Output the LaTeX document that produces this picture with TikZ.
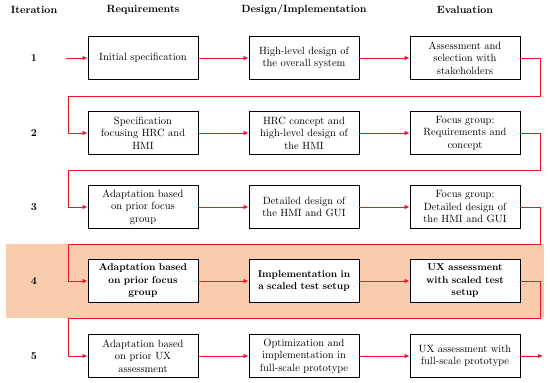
\documentclass[tikz,border=0pt]{standalone}
\usepackage{tikz}
\usepackage{xcolor}
\usetikzlibrary{arrows.meta}
\definecolor{bandpeach}{RGB}{250, 204, 174}
\definecolor{flowred}{RGB}{240, 20, 40}

\begin{document}
\begin{tikzpicture}[x=1pt, y=-1pt,
    stepbox/.style={draw, line width=0.9pt, fill=white, text width=102pt, align=center,
        inner xsep=4pt, inner ysep=2pt, minimum height=43pt, font=\fontsize{10.5}{12.5}\selectfont},
    bold/.style={font=\fontsize{10}{12.5}\selectfont\bfseries},
    head/.style={font=\fontsize{10.5}{12.5}\selectfont\bfseries},
    flow/.style={draw=flowred, line width=0.8pt, -{Latex[length=5pt,width=4.5pt]}}]
    \useasboundingbox (0, 0) rectangle (550, 383);

    % highlighted iteration
    \fill[bandpeach] (6, 244) rectangle (544, 318);

    % column headings
    \node[head] (hit) at (34, 10) {Iteration};
    \node[head] (hreq) at (143, 10) {Requirements};
    \node[head] (hdes) at (304, 10) {Design/Implementation};
    \node[head] (heva) at (465, 10) {Evaluation};

    % iteration numbers
    \node[head] (i1) at (34, 58) {1};
    \node[head] (i2) at (34, 133) {2};
    \node[head] (i3) at (34, 207) {3};
    \node[head] (i4) at (34, 281) {4};
    \node[head] (i5) at (34, 356) {5};

    % iteration 1
    \node[stepbox] (r1) at (143, 58) {Initial specification};
    \node[stepbox] (d1) at (304, 58) {High-level design of\\the overall system};
    \node[stepbox] (e1) at (465, 58) {Assessment and\\selection with\\stakeholders};

    % iteration 2
    \node[stepbox] (r2) at (143, 133) {Specification\\focusing HRC and\\HMI};
    \node[stepbox] (d2) at (304, 133) {HRC concept and\\high-level design of\\the HMI};
    \node[stepbox] (e2) at (465, 133) {Focus group:\\Requirements and\\concept};

    % iteration 3
    \node[stepbox] (r3) at (143, 207) {Adaptation based\\on prior focus\\group};
    \node[stepbox] (d3) at (304, 207) {Detailed design of\\the HMI and GUI};
    \node[stepbox] (e3) at (465, 207) {Focus group:\\Detailed design of\\the HMI and GUI};

    % iteration 4 (bold)
    \node[stepbox, bold] (r4) at (143, 281) {Adaptation based\\on prior focus\\group};
    \node[stepbox, bold] (d4) at (304, 281) {Implementation in\\a scaled test setup};
    \node[stepbox, bold] (e4) at (465, 281) {UX assessment\\with scaled test\\setup};

    % iteration 5
    \node[stepbox] (r5) at (143, 356) {Adaptation based\\on prior UX\\assessment};
    \node[stepbox] (d5) at (304, 356) {Optimization and\\implementation in\\full-scale prototype};
    \node[stepbox] (e5) at (465, 356) {UX assessment with\\full-scale prototype};

    % free ends and turning points
    \coordinate (start) at (66, 58);
    \coordinate (finish) at (543, 356);
    \coordinate (back1r) at (540, 96);  \coordinate (back1l) at (68, 96);
    \coordinate (back2r) at (540, 170); \coordinate (back2l) at (68, 170);
    \coordinate (back3r) at (540, 244); \coordinate (back3l) at (68, 244);
    \coordinate (back4r) at (540, 318); \coordinate (back4l) at (68, 318);

    % arrows within each iteration
    \draw[flow] (start) -- (r1);
    \draw[flow] (r1) -- (d1);
    \draw[flow] (d1) -- (e1);
    \draw[flow] (r2) -- (d2);
    \draw[flow] (d2) -- (e2);
    \draw[flow] (r3) -- (d3);
    \draw[flow] (d3) -- (e3);
    \draw[flow] (r4) -- (d4);
    \draw[flow] (d4) -- (e4);
    \draw[flow] (r5) -- (d5);
    \draw[flow] (d5) -- (e5);
    \draw[flow] (e5) -- (finish);

    % loops back to the next iteration
    \draw[flow] (e1.east) -| (back1r) -- (back1l) |- (r2.west);
    \draw[flow] (e2.east) -| (back2r) -- (back2l) |- (r3.west);
    \draw[flow] (e3.east) -| (back3r) -- (back3l) |- (r4.west);
    \draw[flow] (e4.east) -| (back4r) -- (back4l) |- (r5.west);
\end{tikzpicture}
\end{document}
